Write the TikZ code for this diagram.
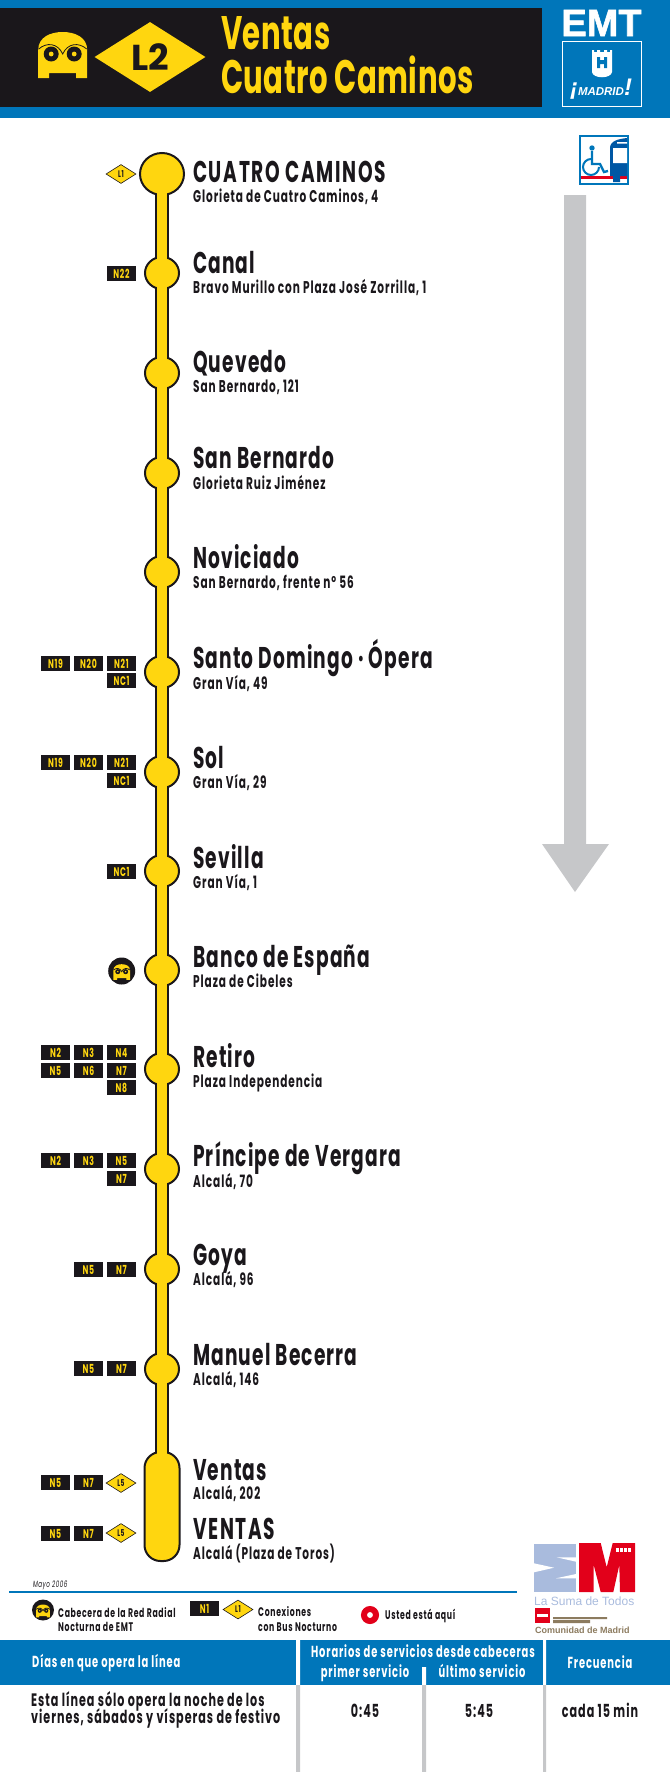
\documentclass[tikz,border=0pt]{standalone}
\usepackage{fontspec}
\usetikzlibrary{shapes.geometric}
\setmainfont{Poppins}
\newfontfamily\futura[FakeStretch=0.62,LetterSpace=5.4]{Poppins}
\newfontfamily\futuraname[FakeStretch=0.62,LetterSpace=3.8]{Poppins}
\newfontfamily\futurahead[FakeStretch=0.62,LetterSpace=1]{Poppins}
\newfontfamily\heroes{Liberation Sans}
\newfontfamily\heroesfat[FakeBold=1.5]{Liberation Sans Bold}
\definecolor{emtblue}{HTML}{0076BA}
\definecolor{busblue}{HTML}{0057A4}
\definecolor{emtblack}{HTML}{1A171B}
\definecolor{emtyellow}{HTML}{FFD60F}
\definecolor{emtgrey}{HTML}{C6C7C9}
\definecolor{emtred}{HTML}{E2001A}
\definecolor{sumablue}{HTML}{A9BBDD}
\definecolor{cmbrown}{HTML}{8C7B5F}
\tikzset{
  stopname/.style={anchor=base west,inner sep=0pt,text=emtblack,font=\futuraname\bfseries\fontsize{30}{30}\selectfont},
  stopcaps/.style={anchor=base west,inner sep=0pt,text=emtblack,font=\futura\bfseries\fontsize{30}{30}\selectfont},
  stopaddr/.style={anchor=base west,inner sep=0pt,text=emtblack,font=\futura\fontsize{17}{17}\selectfont\bfseries},
  stopdot/.style={ellipse,draw=emtblack,line width=2pt,fill=emtyellow,minimum width=34pt,minimum height=32pt,inner sep=0pt},
  nighttag/.style={fill=emtblack,text=emtyellow,minimum width=29pt,minimum height=15pt,inner sep=0pt,font=\futura\bfseries\fontsize{12.5}{12.5}\selectfont},
  metrotag/.style={diamond,fill=emtyellow,draw=emtblack,line width=.6pt,aspect=1.5,minimum width=30pt,minimum height=19pt,inner sep=0pt,text=emtblack,font=\futura\bfseries\fontsize{9.5}{9.5}\selectfont},
  headtext/.style={anchor=base west,inner sep=0pt,text=emtyellow,font=\futurahead\bfseries\fontsize{47}{47}\selectfont},
  legendtext/.style={anchor=base west,inner sep=0pt,text=emtblack,font=\futura\bfseries\fontsize{12.5}{12.5}\selectfont},
  tablehead/.style={anchor=base,inner sep=0pt,text=white,font=\futura\bfseries\fontsize{16}{16}\selectfont},
  tablebody/.style={anchor=base,inner sep=0pt,text=emtblack,font=\futura\bfseries\fontsize{18}{18}\selectfont},
  owlicon/.pic={
    \fill[emtyellow] (-24.5,23) -- (-24.5,-5) .. controls (-24.5,-18) and (-12,-23) .. (0,-23)
      .. controls (12,-23) and (24.5,-18) .. (24.5,-5) -- (24.5,23) -- (13.5,23) -- (13.5,18) -- (-13.5,18) -- (-13.5,23) -- cycle;
    \draw[emtblack,line width=.8pt] (-24,-6) .. controls (-16,-13) and (-5,-12) .. (0,-1) .. controls (5,-12) and (16,-13) .. (24,-6);
    \foreach \side in {-1,1} {
      \fill[emtblack] (\side*11.5,-1) circle (7.5);
      \fill[emtyellow] (\side*11.5,-1) circle (2.4);
    }
  }
}
\begin{document}
\begin{tikzpicture}[x=1pt,y=-1pt]
\useasboundingbox (0,0) rectangle (670,1772);
% header
\fill[emtblue] (0,0) rectangle (670,118);
\fill[emtblack] (0,8) rectangle (542,107);
\pic at (62.7,55) {owlicon};
\node[diamond,fill=emtyellow,aspect=1.58,minimum width=111pt,minimum height=70pt,inner sep=0pt,text=emtblack,font=\bfseries\fontsize{36}{36}\selectfont] (linea) at (150,57) {L2};
\node[headtext] (orig) at (221,49) {Ventas};
\node[headtext] (dest) at (221,93) {Cuatro Caminos};
\node[anchor=base,inner sep=0pt,text=white,font=\heroesfat\fontsize{38}{38}\selectfont] (emt) at (601.5,36) {EMT};
\draw[white,line width=1pt] (562,41) rectangle (641,106);
\fill[white] (592,50) -- (594,50) -- (594,52) -- (597,52) -- (597,50) -- (600,50) -- (600,52) -- (604,52) -- (604,50) -- (607,50) -- (607,52) -- (610,52) -- (610,50) -- (612,50) -- (612,72) .. controls (611,79) and (593,79) .. (592,72) -- cycle;
\fill[emtblue] (597,57) rectangle (600,68) (604,57) rectangle (607,68) (600,60) rectangle (604,64);
\node[anchor=base,inner sep=0pt,text=white,font=\heroes\bfseries\itshape\fontsize{11.5}{11.5}\selectfont] (madrid) at (601,95) {{\fontsize{24}{24}\selectfont ¡}MADRID{\fontsize{24}{24}\selectfont !}};
% accessible bus
\draw[emtblue,line width=2pt] (580,136) rectangle (628,184);
\fill[emtred] (581,176) rectangle (627,179);
\fill[busblue] (610,176) -- (610,148) .. controls (610,141) and (618,139) .. (627,138) -- (627,176) -- (620,176) -- (620,182) -- (613,182) -- (613,176) -- cycle;
\fill[white] (613,148) rectangle (627,163) (617,142) rectangle (627,143.5);
\draw[emtblue,line width=2pt] (599,167) arc[start angle=0,end angle=270,radius=8];
\fill[emtblue] (592,148) circle (2.7);
\draw[emtblue,line width=2.4pt] (592,151) -- (592,164) -- (600,164) -- (604,172) -- (608,171);
% direction arrow
\fill[emtgrey] (564,195) -- (586,195) -- (586,844) -- (609,844) -- (575,892) -- (542,844) -- (564,844) -- cycle;
% line
\coordinate (railtop) at (162,174);
\coordinate (railend) at (162,1506);
\draw[emtblack,line width=14pt] (railtop) -- (railend);
\node[stopdot,minimum width=44pt,minimum height=42pt] (s1) at (162,174) {};
\foreach \y/\sid/\nbase/\abase/\stopn/\stopa in {
  273/s2/273/293/Canal/{Bravo Murillo con Plaza José Zorrilla, 1},
  373/s3/372/392/Quevedo/{San Bernardo, 121},
  473/s4/468/489/San Bernardo/{Glorieta Ruiz Jiménez},
  572/s5/568/588/Noviciado/{San Bernardo, frente nº 56},
  672/s6/668/689/Santo Domingo · Ópera/{Gran Vía, 49},
  772/s7/768/788/Sol/{Gran Vía, 29},
  871/s8/868/888/Sevilla/{Gran Vía, 1},
  970/s9/967/987/Banco de España/{Plaza de Cibeles},
  1069/s10/1067/1087/Retiro/{Plaza Independencia},
  1169/s11/1166/1187/Príncipe de Vergara/{Alcalá, 70},
  1269/s12/1265/1285/Goya/{Alcalá, 96},
  1369/s13/1365/1385/Manuel Becerra/{Alcalá, 146}} {
  \node[stopdot] (\sid) at (162,\y) {};
  \node[stopname] (\sid name) at (193,\nbase) {\stopn};
  \node[stopaddr] (\sid addr) at (193,\abase) {\stopa};
}
\node[draw=emtblack,line width=2pt,fill=emtyellow,rectangle,rounded corners=16pt,minimum width=35pt,minimum height=109pt,inner sep=0pt] (s14) at (162,1506.5) {};
\draw[emtyellow,line width=10pt] (s1.center) -- (s14.center);
\node[stopcaps] (s1name) at (193,182) {CUATRO CAMINOS};
\node[stopaddr] (s1addr) at (193,202) {Glorieta de Cuatro Caminos, 4};
\node[stopname] (s14name) at (193,1480) {Ventas};
\node[stopaddr] (s14addr) at (193,1499) {Alcalá, 202};
\node[stopcaps] (s15name) at (193,1539) {VENTAS};
\node[stopaddr] (s15addr) at (193,1559) {Alcalá (Plaza de Toros)};
% night lines
\foreach \tx/\ty/\tlab in {
  121.5/273.5/N22,
  55.5/663.5/N19, 88.5/663.5/N20, 121.5/663.5/N21, 121.5/680.5/NC1,
  55.5/762.5/N19, 88.5/762.5/N20, 121.5/762.5/N21, 121.5/780.5/NC1,
  121.5/871.5/NC1,
  55.5/1052.5/N2, 88.5/1052.5/N3, 121.5/1052.5/N4,
  55.5/1070.5/N5, 88.5/1070.5/N6, 121.5/1070.5/N7, 121.5/1087.5/N8,
  55.5/1160.5/N2, 88.5/1160.5/N3, 121.5/1160.5/N5, 121.5/1178.5/N7,
  88.5/1269.5/N5, 121.5/1269.5/N7,
  88.5/1368.5/N5, 121.5/1368.5/N7,
  55.5/1482.5/N5, 88.5/1482.5/N7,
  55.5/1533.5/N5, 88.5/1533.5/N7} {
  \node[nighttag] at (\tx,\ty) {\tlab};
}
\node[metrotag] (conn1) at (121,174) {L1};
\node[metrotag] (conn2) at (121,1483) {L5};
\node[metrotag] (conn3) at (121,1533) {L5};
\node[circle,fill=emtblack,minimum size=27pt,inner sep=0pt] (nightbus) at (121.7,971) {};
\pic[scale=.34] at (121.7,972) {owlicon};
% legend
\node[anchor=base west,inner sep=0pt,text=emtblack,font=\futura\itshape\fontsize{9}{9}\selectfont] (fecha) at (33,1587) {Mayo 2006};
\draw[emtblue,line width=2pt] (9,1592) -- (517,1592);
\node[ellipse,fill=emtblack,minimum width=22pt,minimum height=21pt,inner sep=0pt] (legowl) at (43,1610) {};
\pic[scale=.28] at (43,1611) {owlicon};
\node[legendtext] (leg1) at (58,1617) {Cabecera de la Red Radial};
\node[legendtext] (leg2) at (58,1631) {Nocturna de EMT};
\node[nighttag] (legn) at (204.5,1608.5) {N1};
\node[metrotag] (legl) at (238,1609.5) {L1};
\node[legendtext] (leg3) at (258,1616) {Conexiones};
\node[legendtext] (leg4) at (258,1631) {con Bus Nocturno};
\node[circle,draw=emtred,line width=6pt,fill=white,minimum size=12pt,inner sep=0pt] (aqui) at (370,1615) {};
\node[legendtext] (leg5) at (385,1619) {Usted está aquí};
% comunidad logo
\fill[sumablue] (534,1544) rectangle (576,1592);
\fill[white] (534,1563.3) -- (554,1567.7) -- (534,1572.3) -- cycle
  (556.7,1557.3) -- (576,1557.3) -- (576,1561.7) -- cycle
  (556,1578.3) -- (576,1578.3) -- (576,1574) -- cycle;
\fill[emtred] (579,1543) -- (600.7,1543) -- (606.7,1567.3) -- (612.7,1543) -- (635,1543) -- (635,1592) -- (620,1592) -- (619.3,1565) -- (613.3,1592) -- (600.7,1592) -- (593.7,1565) -- (593.7,1592) -- (579,1592) -- cycle;
\foreach \cx in {616,620,624,628} {
  \fill[white] (\cx,1547.5) rectangle ++(3,4);
}
\node[anchor=base west,inner sep=0pt,text=sumablue,font=\heroes\fontsize{12}{12}\selectfont] (suma) at (534,1605) {La Suma de Todos};
\fill[emtred] (535,1608) rectangle (550,1623);
\fill[white] (537,1614) rectangle (548,1617);
\fill[cmbrown] (553,1617) rectangle (607,1619) (553,1620) rectangle (590,1623);
\node[anchor=base west,inner sep=0pt,text=cmbrown,font=\heroes\bfseries\fontsize{9}{9}\selectfont] (comu) at (535,1633) {Comunidad de Madrid};
% table
\fill[emtblue] (0,1640) rectangle (670,1685);
\fill[white] (296,1640) rectangle (300,1685) (543,1640) rectangle (546,1685) (422,1667) rectangle (426,1685);
\fill[emtgrey] (296,1685) rectangle (300,1772) (422,1685) rectangle (426,1772) (543,1685) rectangle (546,1772);
\node[tablehead,anchor=base west] (th1) at (32,1667) {Días en que opera la línea};
\node[tablehead] (th2) at (423,1657) {Horarios de servicios desde cabeceras};
\node[tablehead] (th3) at (365,1677) {primer servicio};
\node[tablehead] (th4) at (482,1677) {último servicio};
\node[tablehead] (th5) at (600,1668) {Frecuencia};
\node[tablebody,anchor=base west] (td1) at (31,1706) {Esta línea sólo opera la noche de los};
\node[tablebody,anchor=base west] (td2) at (31,1723) {viernes, sábados y vísperas de festivo};
\node[tablebody] (td3) at (365,1717) {0:45};
\node[tablebody] (td4) at (479,1717) {5:45};
\node[tablebody] (td5) at (600,1717) {cada 15 min};
\end{tikzpicture}
\end{document}
